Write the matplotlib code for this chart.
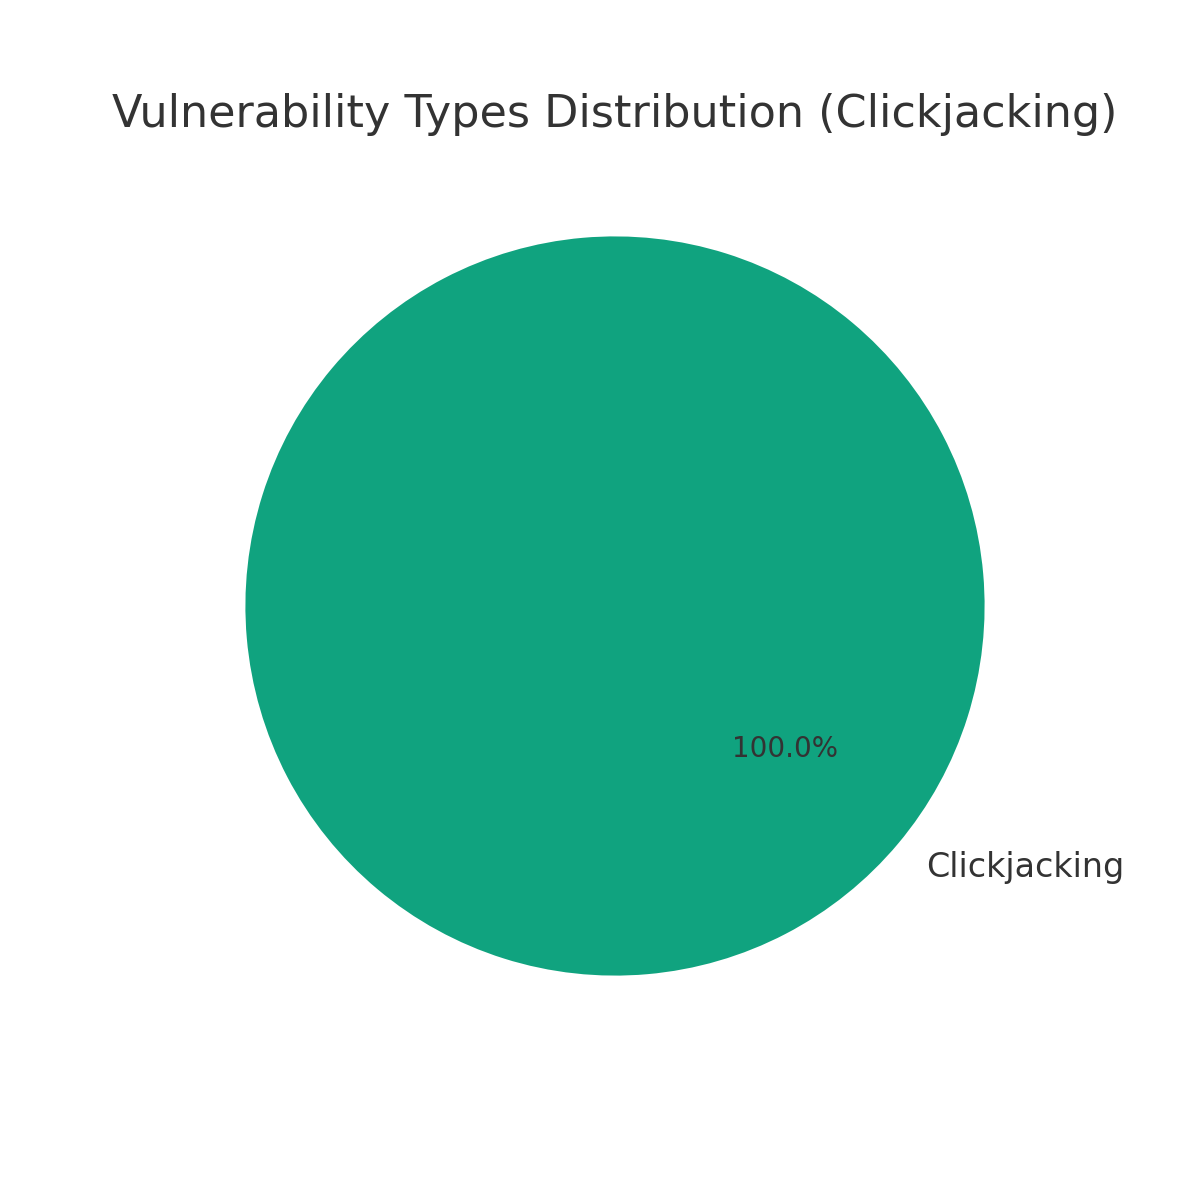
import matplotlib
matplotlib.use("Agg")
import matplotlib.pyplot as plt

labels = ["Clickjacking"]
values = [1]
colors = ["#10a37f"]

plt.rcParams['font.family'] = ['DejaVu Sans']
fig, ax = plt.subplots(figsize=(6, 6), dpi=200)
wedges, texts, autotexts = ax.pie(values, labels=labels, colors=colors,
                                  autopct='%1.1f%%', startangle=140,
                                  textprops={'color': '#333333', 'fontsize': 12})
for t in autotexts:
    t.set_fontsize(10)
    t.set_color('#333333')
ax.set_title("Vulnerability Types Distribution (Clickjacking)", fontsize=16, color='#333333')
fig.savefig("out.png", dpi=200)
